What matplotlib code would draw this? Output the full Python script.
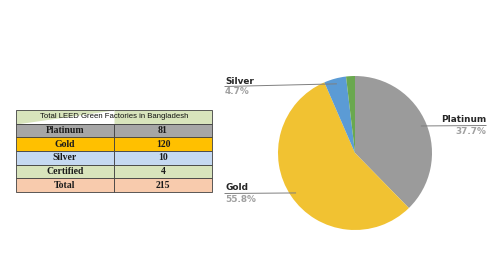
import matplotlib
matplotlib.use("Agg")
import matplotlib.pyplot as plt
import numpy as np

# Data
categories = ["Platinum", "Gold", "Silver", "Certified"]
counts = [81, 120, 10, 4]
table_title = "Total LEED Green Factories in Bangladesh"
table_rows = ["Platinum", "Gold", "Silver", "Certified", "Total"]
table_vals = ["81", "120", "10", "4", "215"]

pie_colors = ["#9b9b9b", "#f1c232", "#5b9bd5", "#6aa84f"]
row_colors = ["#a6a6a6", "#ffc000", "#c5d9f1", "#d8e4bc", "#f8cbad"]
header_color = "#d8e4bc"

W, H = 500, 280
fig = plt.figure(figsize=(5, 2.8), dpi=100)
ax = fig.add_axes([0, 0, 1, 1])
ax.set_xlim(0, W)
ax.set_ylim(0, H)
ax.set_aspect("equal")
ax.axis("off")

cx, cy, r = 355, H - 153, 77
wedges, _ = ax.pie(counts, colors=pie_colors, startangle=90, counterclock=False,
                   center=(cx, cy), radius=r, frame=True,
                   wedgeprops=dict(linewidth=0))
ax.set_xlim(0, W)
ax.set_ylim(0, H)
ax.axis("off")

total = sum(counts)
pct = [c / total * 100 for c in counts]

# labels: (text x, text y in image coords, ha)
label_pos = {0: (486, 120, "right"), 1: (225, 188, "left"), 2: (225, 81, "left")}
for i, (tx, ty, ha) in label_pos.items():
    w = wedges[i]
    mid = np.deg2rad((w.theta1 + w.theta2) / 2)
    ex, ey = cx + 0.93 * r * np.cos(mid), cy + 0.93 * r * np.sin(mid)
    ly = H - (ty + 5.5)
    ax.plot([tx, ex], [ly, ey], color="#7f7f7f", lw=0.7, zorder=3)
    ax.text(tx, H - ty, categories[i], ha=ha, va="center", fontsize=6.4,
            fontweight="bold", color="#262626", family="DejaVu Sans")
    ax.text(tx, H - ty - 11, f"{pct[i]:.1f}%", ha=ha, va="center", fontsize=6.4,
            fontweight="bold", color="#a0a0a0", family="DejaVu Sans")

# Table
tx0, tx1, ty0, ty1 = 16, 212, 110, 192
tax = fig.add_axes([tx0 / W, 1 - ty1 / H, (tx1 - tx0) / W, (ty1 - ty0) / H])
tax.axis("off")
cell_text = [["", ""]] + [[a, b] for a, b in zip(table_rows, table_vals)]
cell_colors = [[header_color, header_color]] + [[c, c] for c in row_colors]
tbl = tax.table(cellText=cell_text, cellColours=cell_colors, cellLoc="center",
                bbox=[0, 0, 1, 1])
tbl.auto_set_font_size(False)
for (row, col), cell in tbl.get_celld().items():
    cell.set_linewidth(0.6)
    cell.set_edgecolor("#404040")
    t = cell.get_text()
    if row == 0:
        cell.visible_edges = "BLT" if col == 0 else "BRT"
    else:
        t.set_fontsize(7)
        t.set_family("Liberation Serif")
        t.set_fontweight("bold")
        t.set_color("#1a1a1a")

# header text centered across both columns
tax.text(0.5, 1 - 0.5 / 6, table_title, ha="center", va="center", fontsize=5.6,
         family="Liberation Sans", transform=tax.transAxes, color="#111111", zorder=5)

fig.savefig("out.png", dpi=100)
